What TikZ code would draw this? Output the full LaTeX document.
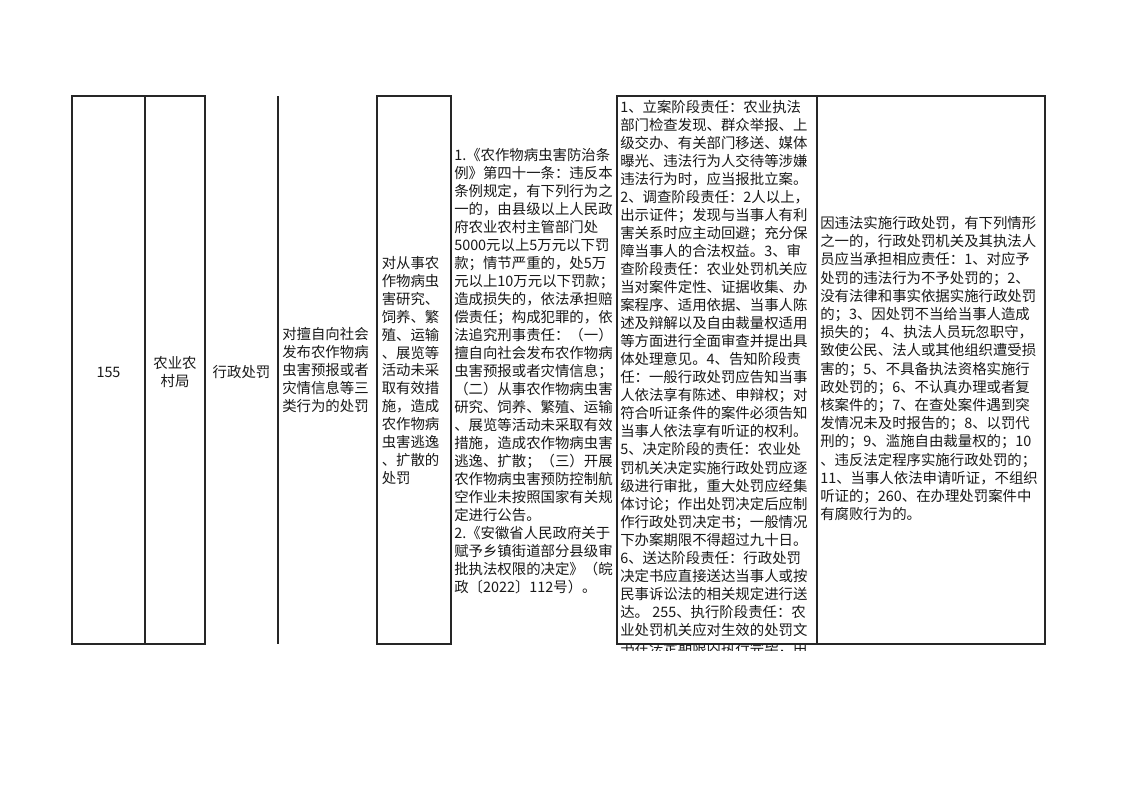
\documentclass[tikz,border=0pt]{standalone}
\usepackage{fontspec}
\setmainfont{Noto Sans CJK SC}
\begin{document}
\begin{tikzpicture}[x=0.75pt,y=-0.75pt,
  txt/.style={font=\fontsize{10.8}{13}\selectfont, inner sep=0pt, anchor=base west, text=black!90},
  ctxt/.style={font=\fontsize{10.8}{13}\selectfont, inner sep=0pt, anchor=base, text=black!90},
  border/.style={line width=0.9pt, draw=black!85}]
\useasboundingbox[fill=white] (0,0) rectangle (1122,793);

% column 1-3
\node[ctxt] (c1) at (108.5,377.5) {155};
\node[ctxt] (c2a) at (175,368.5) {农业农};
\node[ctxt] (c2b) at (175,386.5) {村局};
\node[ctxt] (c3) at (241.5,377.5) {行政处罚};

% column 4
\foreach \t [count=\i] in {{对擅自向社会},{发布农作物病},{虫害预报或者},{灾情信息等三},{类行为的处罚}}
  \node[txt] (c4-\i) at (282,{334+17.9*(\i-1)+5.5}) {\t};

% column 5
\foreach \t [count=\i] in {{对从事农},{作物病虫},{害研究、},{饲养、繁},{殖、运输},{、展览等},{活动未采},{取有效措},{施，造成},{农作物病},{虫害逃逸},{、扩散的},{处罚}}
  \node[txt] (c5-\i) at (381.5,{263+17.9*(\i-1)+5.5}) {\t};

% column 6
\foreach \t [count=\i] in {{1.《农作物病虫害防治条},{例》第四十一条：违反本},{条例规定，有下列行为之},{一的，由县级以上人民政},{府农业农村主管部门处},{5000元以上5万元以下罚},{款；情节严重的，处5万},{元以上10万元以下罚款；},{造成损失的，依法承担赔},{偿责任；构成犯罪的，依},{法追究刑事责任：（一）},{擅自向社会发布农作物病},{虫害预报或者灾情信息；},{（二）从事农作物病虫害},{研究、饲养、繁殖、运输},{、展览等活动未采取有效},{措施，造成农作物病虫害},{逃逸、扩散；（三）开展},{农作物病虫害预防控制航},{空作业未按照国家有关规},{定进行公告。},{2.《安徽省人民政府关于},{赋予乡镇街道部分县级审},{批执法权限的决定》（皖},{政〔2022〕112号）。}}
  \node[txt] (c6-\i) at (454,{155+18*(\i-1)+5.5}) {\t};

% column 7
\foreach \t [count=\i] in {{1、立案阶段责任：农业执法},{部门检查发现、群众举报、上},{级交办、有关部门移送、媒体},{曝光、违法行为人交待等涉嫌},{违法行为时，应当报批立案。},{2、调查阶段责任：2人以上，},{出示证件；发现与当事人有利},{害关系时应主动回避；充分保},{障当事人的合法权益。3、审},{查阶段责任：农业处罚机关应},{当对案件定性、证据收集、办},{案程序、适用依据、当事人陈},{述及辩解以及自由裁量权适用},{等方面进行全面审查并提出具},{体处理意见。4、告知阶段责},{任：一般行政处罚应告知当事},{人依法享有陈述、申辩权；对},{符合听证条件的案件必须告知},{当事人依法享有听证的权利。},{5、决定阶段的责任：农业处},{罚机关决定实施行政处罚应逐},{级进行审批，重大处罚应经集},{体讨论；作出处罚决定后应制},{作行政处罚决定书；一般情况},{下办案期限不得超过九十日。},{6、送达阶段责任：行政处罚},{决定书应直接送达当事人或按},{民事诉讼法的相关规定进行送},{达。 255、执行阶段责任：农},{业处罚机关应对生效的处罚文}}
  \node[txt] (c7-\i) at (620,{106.5+18.05*(\i-1)+5.5}) {\t};
\begin{scope}
  \clip (617,644.5) rectangle (817,650);
  \node[txt] (c7-31) at (620,{648+5.5}) {书在法定期限内执行完毕，由};
\end{scope}

% column 8
\foreach \t [count=\i] in {{因违法实施行政处罚，有下列情形},{之一的，行政处罚机关及其执法人},{员应当承担相应责任：1、对应予},{处罚的违法行为不予处罚的；2、},{没有法律和事实依据实施行政处罚},{的；3、因处罚不当给当事人造成},{损失的； 4、执法人员玩忽职守，},{致使公民、法人或其他组织遭受损},{害的；5、不具备执法资格实施行},{政处罚的；6、不认真办理或者复},{核案件的；7、在查处案件遇到突},{发情况未及时报告的；8、以罚代},{刑的；9、滥施自由裁量权的；10},{、违反法定程序实施行政处罚的；},{11、当事人依法申请听证，不组织},{听证的；260、在办理处罚案件中},{有腐败行为的。}}
  \node[txt] (c8-\i) at (820,{223+18.2*(\i-1)+5.5}) {\t};

% borders
\draw[border] (72,96) rectangle (205,644);
\draw[border] (145,96) -- (145,644);
\draw[border] (278,96) -- (278,644);
\draw[border] (377,96) rectangle (451,644);
\draw[border] (617,96) rectangle (1045,644);
\draw[border] (817,96) -- (817,644);
\end{tikzpicture}
\end{document}
